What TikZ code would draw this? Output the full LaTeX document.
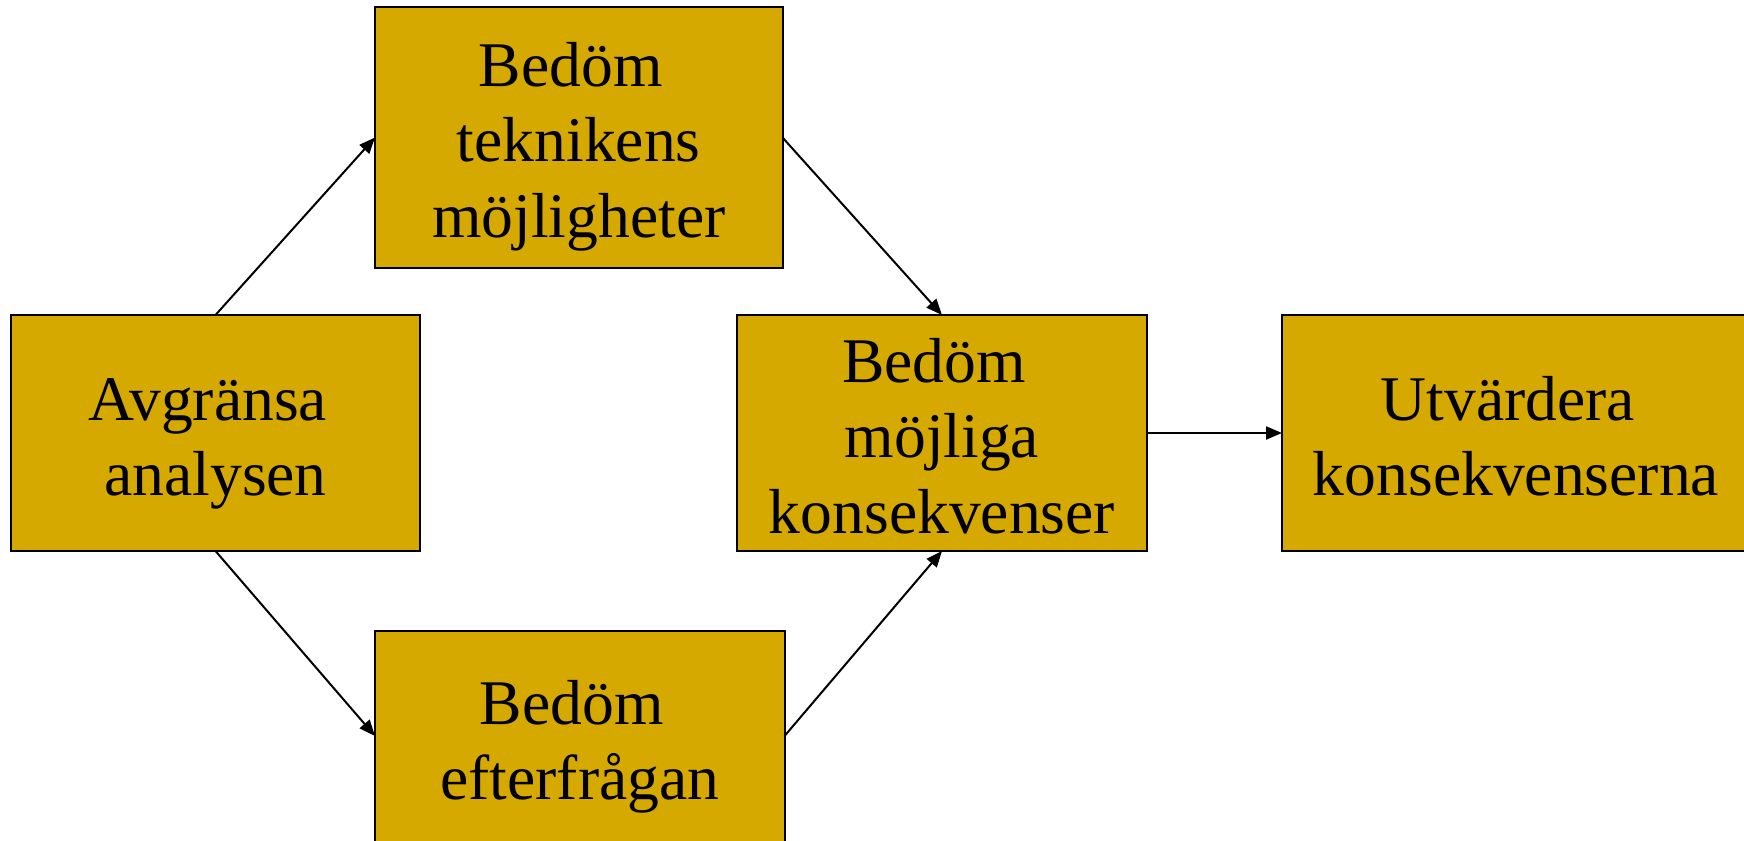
\documentclass[tikz,border=0pt]{standalone}
\usepackage{fontspec}
\setmainfont{Liberation Serif}
\usetikzlibrary{arrows.meta}
\definecolor{gold}{RGB}{214,169,0}
\newcommand{\TopStrut}{\rule{0pt}{30pt}}
\newcommand{\Tsp}{\hspace*{0.25em}}
\begin{document}
\begin{tikzpicture}[x=0.5pt,y=-0.5pt,
  boxst/.style={draw=black, fill=gold, line width=1pt, inner sep=0pt, outer sep=0pt},
  txt/.style={anchor=north, align=center, inner sep=0pt, font=\fontsize{31.8pt}{37.75pt}\selectfont},
  arr/.style={-{Triangle[length=8pt,width=6.5pt]}, line width=1pt}]
\useasboundingbox (0,0) rectangle (1744,840);
\fill[white] (0,0) rectangle (1744,840);
% boxes
\node[boxst, minimum width=203.75pt, minimum height=130.5pt] (top) at (578.75,137.5) {};
\node[boxst, minimum width=204.5pt, minimum height=118pt] (avg) at (215.5,433) {};
\node[boxst, minimum width=205pt, minimum height=118pt] (mid) at (942,433) {};
\node[boxst, minimum width=234pt, minimum height=118pt] (utv) at (1516,433) {};
\node[boxst, minimum width=204.75pt, minimum height=110pt] (bot) at (579.75,741) {};
% texts
\node[txt] (toptxt) at (578.75,26) {\TopStrut Bedöm\Tsp\\teknikens\\möjligheter};
\node[txt] (avgtxt) at (215.5,360) {\TopStrut Avgränsa\Tsp\\analysen};
\node[txt] (midtxt) at (942,322) {\TopStrut Bedöm\Tsp\\möjliga\Tsp\\konsekvenser};
\node[txt] (utvtxt) at (1516,360) {\TopStrut Utvärdera\Tsp\\konsekvenserna};
\node[txt] (bottxt) at (579.75,664) {\TopStrut Bedöm\Tsp\\efterfrågan};
% connectors
\draw[arr] (avg.north) -- (top.west);
\draw[arr] (top.east) -- (mid.north);
\draw[arr] (avg.south) -- ([yshift=2.5pt]bot.west);
\draw[arr] ([yshift=2.5pt]bot.east) -- (mid.south);
\draw[arr] (mid.east) -- (utv.west);
\end{tikzpicture}
\end{document}
